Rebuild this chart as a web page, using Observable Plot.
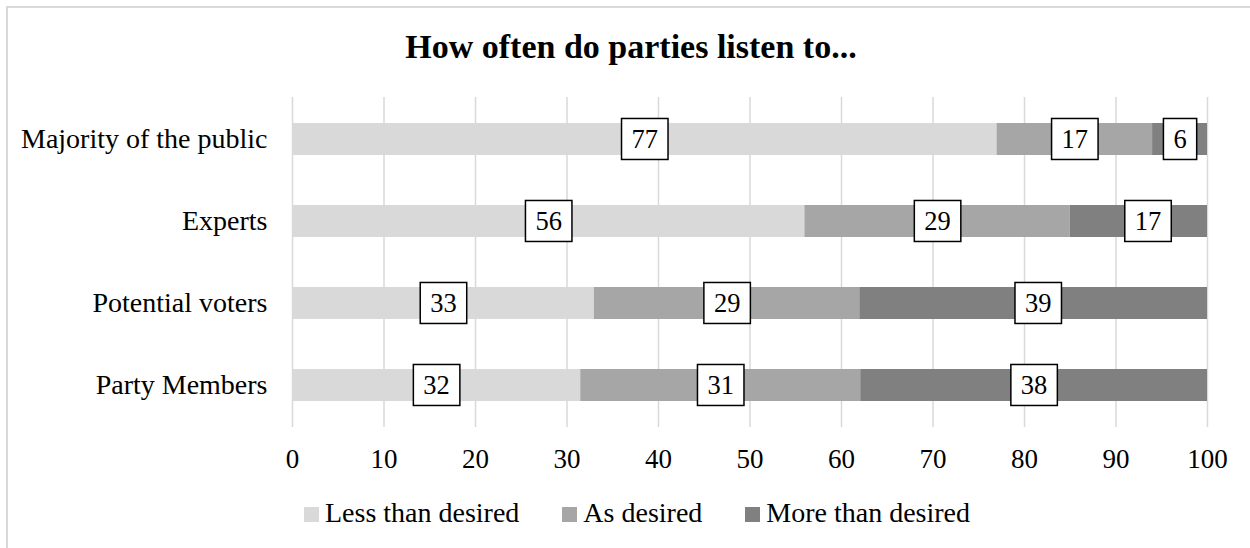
<!DOCTYPE html>
<html><head><meta charset="utf-8">
<script src="https://cdn.jsdelivr.net/npm/d3@7"></script>
<script src="https://cdn.jsdelivr.net/npm/@observablehq/plot@0.6"></script>
<style>
body{margin:0;background:#fff;overflow:hidden;font-family:"Liberation Serif",serif;color:#000}
#wrap{position:relative;width:1250px;height:548px;overflow:hidden;background:#fff}
#frame{position:absolute;left:6px;top:6px;width:1400px;height:700px;border:2px solid #d9d9d9}
#title{position:absolute;left:0;width:1262px;top:29.5px;text-align:center;font-weight:bold;font-size:34px;line-height:34px}
#chart{position:absolute;left:0;top:0}
#legend{position:absolute;left:0;width:1274px;top:499px;display:flex;justify-content:center;font-size:28px;line-height:28px}
.item{display:flex;align-items:center;margin:0 21.5px}
.sw{width:15px;height:15px;margin-right:6px;margin-top:3px}
</style></head><body>
<div id="wrap"><div id="frame"></div><div id="title"></div><div id="chart"></div><div id="legend"></div></div>
<script>
const categories = ["Majority of the public", "Experts", "Potential voters", "Party Members"];
const series = ["Less than desired", "As desired", "More than desired"];
const lessThanDesired = [77, 56, 33, 31.5];
const asDesired = [17, 29, 29, 30.6];
const moreThanDesired = [6, 17, 39, 37.9];
const xTicks = [0, 10, 20, 30, 40, 50, 60, 70, 80, 90, 100];
const colors = ["#d9d9d9", "#a6a6a6", "#808080"];
const titleText = "How often do parties listen to...";

const seriesValues = [lessThanDesired, asDesired, moreThanDesired];
const rows = [];
categories.forEach((c, i) => {
  series.forEach((s, j) => rows.push({category: c, series: s, value: seriesValues[j][i]}));
});

document.getElementById("title").textContent = titleText;

const chart = Plot.plot({
  width: 1250, height: 490,
  marginLeft: 292, marginRight: 43, marginTop: 97, marginBottom: 63,
  style: {fontFamily: "Liberation Serif", fontSize: "27px", color: "#000", background: "transparent", overflow: "visible"},
  x: {domain: [0, 100], label: null},
  y: {domain: categories, paddingInner: 0.612, paddingOuter: 0.306, label: null},
  color: {domain: series, range: colors},
  marks: [
    Plot.gridX(xTicks, {stroke: "#d9d9d9", strokeOpacity: 1, strokeWidth: 1.5}),
    Plot.barX(rows, Plot.stackX({x: "value", y: "category", fill: "series", clip: true})),
    Plot.textX(rows, Plot.stackX({x: "value", y: "category", z: "series",
      text: d => String(Math.round(d.value)), fontSize: 26.5, fill: "#000"})),
    Plot.axisX(xTicks, {tickSize: 0, tickPadding: 21, fontSize: 27, label: null, fill: "#000"}),
    Plot.axisY({tickSize: 0, tickPadding: 25, fontSize: 28, label: null, fill: "#000"})
  ]
});
document.getElementById("chart").append(chart);

// white boxes with black border around the value labels
chart.querySelectorAll('g[aria-label="text"] text').forEach(t => {
  const bb = t.getBBox();
  const cy = bb.y + bb.height / 2;
  const r = document.createElementNS("http://www.w3.org/2000/svg", "rect");
  r.setAttribute("x", bb.x - 10);
  r.setAttribute("width", bb.width + 20);
  r.setAttribute("y", cy - 20.5);
  r.setAttribute("height", 41);
  r.setAttribute("fill", "#fff");
  r.setAttribute("stroke", "#000");
  r.setAttribute("stroke-width", 1.5);
  const tr = t.getAttribute("transform");
  if (tr) r.setAttribute("transform", tr);
  t.parentNode.insertBefore(r, t);
});

const legend = document.getElementById("legend");
series.forEach((s, j) => {
  const item = document.createElement("div");
  item.className = "item";
  const sw = document.createElement("div");
  sw.className = "sw";
  sw.style.background = colors[j];
  const lab = document.createElement("span");
  lab.textContent = s;
  item.append(sw, lab);
  legend.append(item);
});
</script>
</body></html>
